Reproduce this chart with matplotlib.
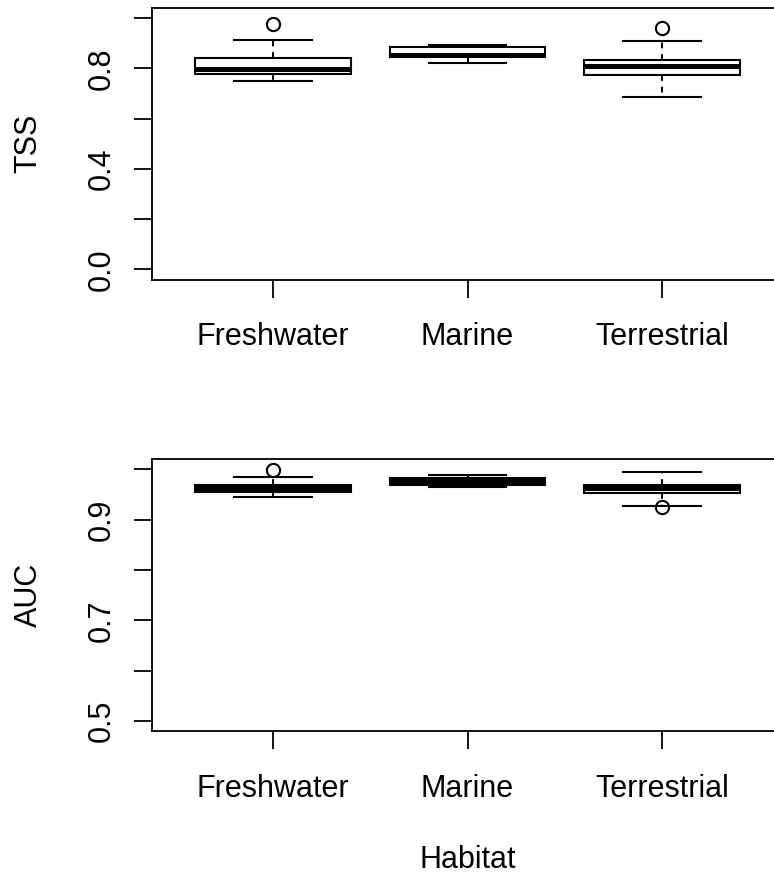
import matplotlib
matplotlib.use("Agg")
import matplotlib.pyplot as plt

plt.rcParams['font.family'] = ['Liberation Sans', 'DejaVu Sans']

habitats = ["Freshwater", "Marine", "Terrestrial"]

# TSS box statistics
tss_whislo = [0.750, 0.823, 0.687]
tss_q1 = [0.779, 0.845, 0.773]
tss_med = [0.797, 0.855, 0.811]
tss_q3 = [0.843, 0.883, 0.833]
tss_whishi = [0.912, 0.892, 0.910]
tss_fliers = [[0.975], [], [0.959]]

# AUC box statistics
auc_whislo = [0.946, 0.966, 0.928]
auc_q1 = [0.956, 0.970, 0.954]
auc_med = [0.963, 0.977, 0.963]
auc_q3 = [0.970, 0.984, 0.970]
auc_whishi = [0.986, 0.989, 0.995]
auc_fliers = [[0.999], [], [0.926]]

tss_ticks = [0.0, 0.2, 0.4, 0.6, 0.8, 1.0]
tss_ticklabels = ["0.0", "", "0.4", "", "0.8", ""]
auc_ticks = [0.5, 0.6, 0.7, 0.8, 0.9, 1.0]
auc_ticklabels = ["0.5", "", "0.7", "", "0.9", ""]

W, H = 774, 876
fig = plt.figure(figsize=(W / 100, H / 100), dpi=100)

left = 152.4 / W
width = (782.6 - 152.4) / W
ax1 = fig.add_axes([left, 1 - 279.5 / H, width, (279.5 - 8.0) / H])
ax2 = fig.add_axes([left, 1 - 731.0 / H, width, (731.0 - 459.4) / H])


def make_stats(lo, q1, med, q3, hi, fl):
    out = []
    for i in range(len(med)):
        out.append(dict(whislo=lo[i], q1=q1[i], med=med[i], q3=q3[i],
                        whishi=hi[i], fliers=fl[i], label=habitats[i]))
    return out


def draw(ax, stats, ylim, ticks, ticklabels, ylabel):
    ax.bxp(stats, positions=[1, 2, 3], widths=0.8, capwidths=0.4,
           showfliers=True, patch_artist=True,
           boxprops=dict(facecolor='white', edgecolor='black', linewidth=1.5),
           medianprops=dict(color='black', linewidth=3.6, solid_capstyle='butt'),
           whiskerprops=dict(color='black', linewidth=1.4, linestyle=(0, (3.0, 3.0))),
           capprops=dict(color='black', linewidth=1.5),
           flierprops=dict(marker='o', markerfacecolor='none', markeredgecolor='black',
                           markersize=9.5, markeredgewidth=1.5, linestyle='none'))
    ax.set_xlim(0.38, 3.62)
    ax.set_ylim(*ylim)
    ax.set_xticks([1, 2, 3])
    ax.set_xticklabels(habitats, fontsize=22)
    ax.set_yticks(ticks)
    ax.set_yticklabels(ticklabels, fontsize=22, rotation=90, va='center')
    ax.tick_params(axis='both', direction='out', length=12.8, width=1.3, color='black')
    ax.tick_params(axis='x', pad=18)
    ax.tick_params(axis='y', pad=13)
    for s in ax.spines.values():
        s.set_linewidth(1.3)
        s.set_color('black')
    ax.set_ylabel(ylabel, fontsize=22, labelpad=31)


draw(ax1, make_stats(tss_whislo, tss_q1, tss_med, tss_q3, tss_whishi, tss_fliers),
     (-0.04, 1.04), tss_ticks, tss_ticklabels, "TSS")
draw(ax2, make_stats(auc_whislo, auc_q1, auc_med, auc_q3, auc_whishi, auc_fliers),
     (0.48, 1.02), auc_ticks, auc_ticklabels, "AUC")

fig.text(467.5 / W, (H - 868) / H, "Habitat", fontsize=22, ha='center', va='baseline')

fig.savefig("out.png", dpi=100)
